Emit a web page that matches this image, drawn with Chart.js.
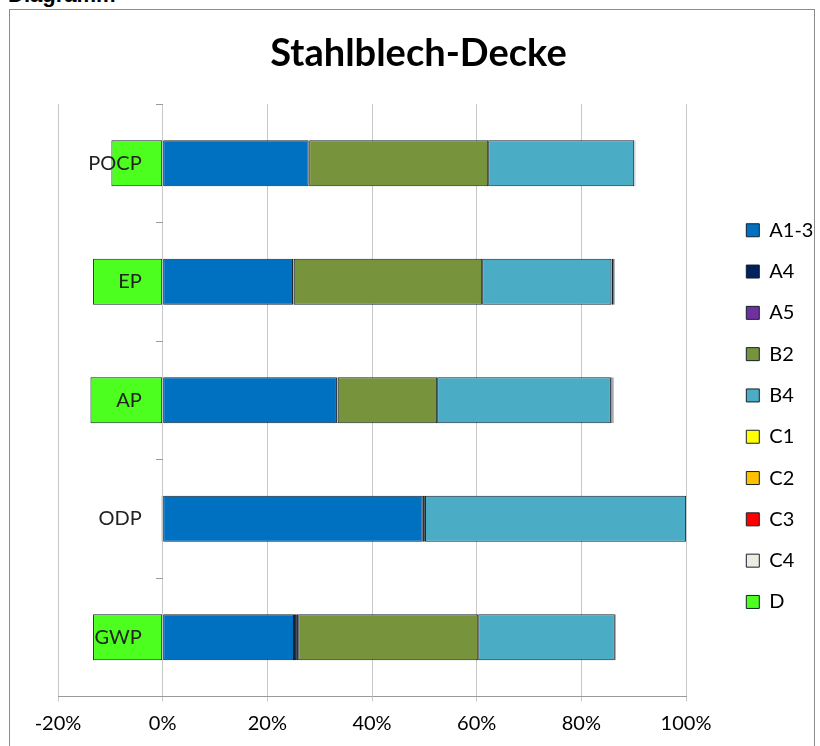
<!DOCTYPE html>
<html>
<head>
<meta charset="utf-8">
<script src="https://cdn.jsdelivr.net/npm/chart.js@4/dist/chart.umd.min.js"></script>
<style>
  html, body { margin: 0; padding: 0; background: #fff; overflow: hidden; width: 820px; height: 746px; }
  #hdr { position: absolute; left: 8px; top: -17px; font: bold 22px "Liberation Sans", Arial, sans-serif; line-height: 24px; color: #000; }
  #frame { position: absolute; left: 9px; top: 9px; width: 804px; height: 740px; border: 1px solid #8c8c8c; background: #fff; }
  canvas { display: block; }
</style>
</head>
<body>
<div id="hdr">Diagramm</div>
<div id="frame"><canvas id="c" width="804" height="740"></canvas></div>
<script>
// ---- data (percent shares) ----
const categories = ["POCP", "EP", "AP", "ODP", "GWP"];
const seriesNames = ["A1-3", "A4", "A5", "B2", "B4", "C1", "C2", "C3", "C4", "D"];
const valA13 = [27.9, 24.9, 33.3, 49.7, 25.1];
const valA4  = [0.05, 0.1, 0.1, 0.4, 0.4];
const valA5  = [0.05, 0.05, 0.05, 0.02, 0.4];
const valB2  = [34.2, 36.0, 19.0, 0, 34.4];
const valB4  = [27.9, 24.7, 33.2, 49.9, 26.1];
const valC1  = [0.05, 0.1, 0.1, 0, 0.05];
const valC2  = [0.05, 0.2, 0.15, 0, 0.05];
const valC3  = [0.02, 0.05, 0.05, 0, 0.02];
const valC4  = [0.1, 0.25, 0.2, 0, 0.1];
const valD   = [-9.8, -13.3, -13.8, -0.2, -13.3];
const xTicks = [-20, 0, 20, 40, 60, 80, 100];

const seriesValues = [valA13, valA4, valA5, valB2, valB4, valC1, valC2, valC3, valC4, valD];
const seriesColors = ["#0070C0", "#002060", "#7030A0", "#77933C", "#4BACC6", "#FFFF00", "#FFC000", "#FF0000", "#EEECE1", "#4DFF1F"];

const FONT = "Lato, 'Open Sans', sans-serif";

const datasets = seriesNames.map((n, i) => ({
  label: n,
  data: seriesValues[i],
  backgroundColor: seriesColors[i],
  borderColor: "#14202b",
  borderWidth: 1,
  borderSkipped: false,
  barPercentage: 0.39,
  categoryPercentage: 1.0
}));

new Chart(document.getElementById("c"), {
  type: "bar",
  data: { labels: categories, datasets },
  options: {
    indexAxis: "y",
    responsive: false,
    animation: false,
    devicePixelRatio: 1,
    layout: { padding: { left: 13, right: 0, top: 0, bottom: 4.5 } },
    plugins: {
      title: {
        display: true,
        text: "Stahlblech-Decke",
        color: "#000",
        font: { family: FONT, size: 38, weight: "bold", lineHeight: 1.2 },
        padding: { top: 21, bottom: 27.4 }
      },
      legend: {
        display: true,
        position: "right",
        maxWidth: 89,
        title: { display: true, text: " ", font: { family: FONT, size: 20, lineHeight: 1.2 }, padding: 26.35 },
        labels: {
          color: "#000",
          font: { family: FONT, size: 20 },
          boxWidth: 13,
          boxHeight: 13,
          padding: 21.3
        }
      },
      tooltip: { enabled: false }
    },
    scales: {
      x: {
        type: "linear",
        stacked: true,
        min: xTicks[0],
        max: xTicks[xTicks.length - 1],
        afterBuildTicks: (s) => { s.ticks = xTicks.map(v => ({ value: v })); },
        grid: { color: "#c8c8c8", lineWidth: 1, tickLength: 5, drawTicks: true },
        border: { display: true, color: "#9a9a9a" },
        ticks: {
          color: "#000",
          padding: 10,
          font: { family: FONT, size: 20 },
          callback: (v) => v + "%"
        }
      },
      y: {
        stacked: true,
        position: { x: -4 },
        grid: { display: false },
        border: { display: false },
        ticks: { z: 1, color: "#222", font: { family: FONT, size: 20 } }
      },
      yTicks: {
        type: "category",
        axis: "y",
        labels: categories,
        offset: true,
        position: { x: 0 },
        grid: { display: true, drawOnChartArea: false, drawTicks: true, tickLength: 7, color: "#9a9a9a", offset: true },
        border: { display: false },
        ticks: { display: false }
      },
      padL: {
        type: "linear",
        axis: "y",
        position: "left",
        display: true,
        grid: { display: false, drawTicks: false },
        border: { display: false },
        ticks: { display: false },
        afterFit: (s) => { s.width = 35; }
      },
      gap: {
        type: "linear",
        axis: "y",
        position: "right",
        display: true,
        grid: { display: false, drawTicks: false },
        border: { display: false },
        ticks: { display: false },
        afterFit: (s) => { s.width = 39; }
      }
    }
  }
});
</script>
</body>
</html>
